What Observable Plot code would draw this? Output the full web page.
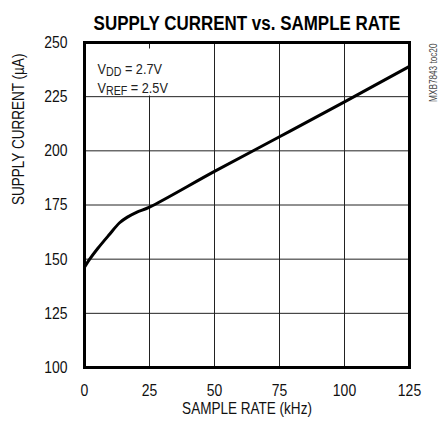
<!DOCTYPE html>
<html><head><meta charset="utf-8">
<script src="https://cdn.jsdelivr.net/npm/d3@7"></script>
<script src="https://cdn.jsdelivr.net/npm/@observablehq/plot@0.6"></script>
<style>body{margin:0;background:#fff} svg{display:block}</style>
</head><body><div id="chart"></div>
<script>
const sampleRate    = [0, 2, 5, 9.3, 13.5, 16.5, 20, 25, 50, 75, 100, 125];
const supplyCurrent = [146.3, 150, 154.8, 161, 166.8, 169.4, 171.6, 174, 190.5, 206.5, 222.6, 239];
const xTicks = [0, 25, 50, 75, 100, 125];
const yTicks = [100, 125, 150, 175, 200, 225, 250];
const titleText = "SUPPLY CURRENT vs. SAMPLE RATE";
const xLabel = "SAMPLE RATE (kHz)";
const yLabel = "SUPPLY CURRENT (µA)";
const annotations = ["V_DD = 2.7V", "V_REF = 2.5V"];
const codeLabel = "MXB7843 toc20";

const data = sampleRate.map((x, i) => ({x, y: supplyCurrent[i]}));
const font = "'Liberation Sans', Arial, sans-serif";
const annoDy = [20, 39];

const chart = Plot.plot({
  width: 439, height: 427,
  marginLeft: 84, marginRight: 30, marginTop: 42, marginBottom: 60,
  style: {fontFamily: font, background: "#fff", color: "#111", overflow: "visible"},
  x: {domain: [0, 125], label: null},
  y: {domain: [100, 250], label: null},
  marks: [
    Plot.gridX(xTicks, {stroke: "#222", strokeOpacity: 1, strokeWidth: 1}),
    // white backing box behind the legend text (relative to the frame)
    Plot.frame({fill: "white", stroke: "none", insetLeft: 3, insetTop: 6, insetRight: 232, insetBottom: 272}),
    Plot.gridY(yTicks, {stroke: "#222", strokeOpacity: 1, strokeWidth: 1}),
    Plot.axisX(xTicks, {tickSize: 0, tickPadding: 16, fontSize: 17, label: null, fill: "#111"}),
    Plot.axisY(yTicks, {tickSize: 0, tickPadding: 17, fontSize: 17, label: null, fill: "#111"}),
    ...annotations.map((a, i) =>
      Plot.text([a], {frameAnchor: "top-left", textAnchor: "start", dx: 13, dy: annoDy[i], fontSize: 15.5, fill: "#222"})),
    Plot.line(data, {x: "x", y: "y", stroke: "black", strokeWidth: 3, curve: "catmull-rom"}),
    Plot.frame({stroke: "black", strokeWidth: 3}),
    Plot.text([titleText], {frameAnchor: "top", dy: -27, fontSize: 21, fontWeight: "bold", fill: "#000"}),
    Plot.text([xLabel], {frameAnchor: "bottom", dy: 46, fontSize: 16.5, fill: "#111"}),
    Plot.text([yLabel], {frameAnchor: "left", dx: -66, rotate: -90, fontSize: 16.5, fill: "#111"}),
    Plot.text([codeLabel], {frameAnchor: "top-right", dx: 20, dy: 1, rotate: -90, textAnchor: "end", fontSize: 10, fill: "#444"})
  ]
});

document.getElementById("chart").append(chart);

const NS = "http://www.w3.org/2000/svg";
const squeeze = (el, k) => {
  const len = el.getComputedTextLength();
  if (len > 0) {
    el.setAttribute("textLength", (len * k).toFixed(1));
    el.setAttribute("lengthAdjust", "spacingAndGlyphs");
  }
};
const scaleX = (t, k) => {
  const tr = t.getAttribute("transform") || "";
  t.setAttribute("transform", tr + ` scale(${k.toFixed(3)},1)`);
};
chart.querySelectorAll("text").forEach(t => {
  const s = t.textContent;
  if (s.includes("_")) {
    const m = s.match(/^(.)_(\S+)(.*)$/);
    t.textContent = "";
    const a = document.createElementNS(NS, "tspan");
    a.textContent = m[1];
    const b = document.createElementNS(NS, "tspan");
    b.textContent = m[2]; b.setAttribute("dy", "3"); b.setAttribute("font-size", "13");
    const c = document.createElementNS(NS, "tspan");
    c.textContent = m[3]; c.setAttribute("dy", "-3");
    t.append(a, b, c);
    scaleX(t, 0.82);
  } else if (s === titleText) {
    scaleX(t, 307 / t.getComputedTextLength());
  } else {
    squeeze(t, 0.82);
  }
});
</script></body></html>
